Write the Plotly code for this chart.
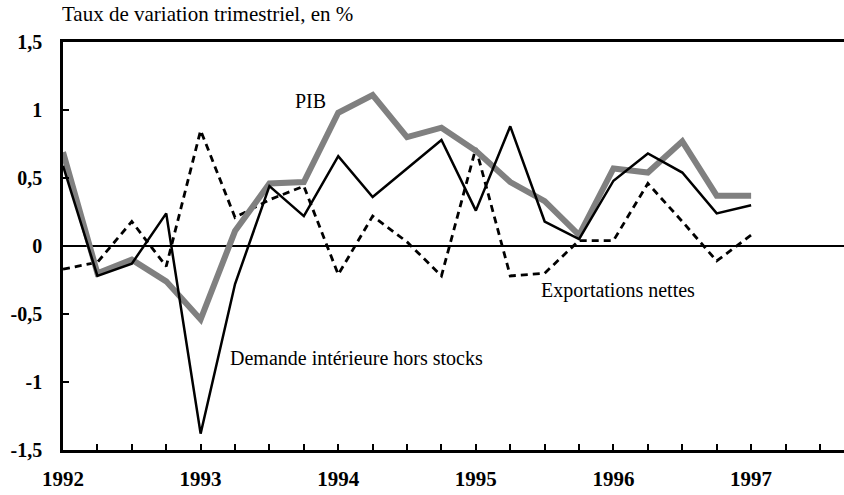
import plotly.graph_objects as go

# Quarterly data, 1992 Q1 -> 1997 Q1
quarters = list(range(21))
pib = [0.69, -0.20, -0.10, -0.26, -0.54, 0.11, 0.46, 0.47, 0.98, 1.11,
       0.80, 0.87, 0.70, 0.47, 0.33, 0.08, 0.57, 0.54, 0.77, 0.37, 0.37]
demande = [0.59, -0.22, -0.13, 0.24, -1.38, -0.28, 0.44, 0.22, 0.66, 0.36,
           0.57, 0.78, 0.26, 0.88, 0.18, 0.05, 0.48, 0.68, 0.54, 0.24, 0.30]
export_nettes = [-0.17, -0.12, 0.18, -0.15, 0.85, 0.21, 0.34, 0.44, -0.21, 0.22,
                 0.03, -0.22, 0.72, -0.22, -0.20, 0.04, 0.04, 0.46, 0.18, -0.11, 0.08]

years = ["1992", "1993", "1994", "1995", "1996", "1997"]
x_tickvals = list(range(23))
x_ticktext = [years[i // 4] if i % 4 == 0 and i // 4 < len(years) else "" for i in x_tickvals]
y_tickvals = [-1.5, -1, -0.5, 0, 0.5, 1, 1.5]
y_ticktext = ["-1,5", "-1", "-0,5", "0", "0,5", "1", "1,5"]

FONT = "Liberation Serif"

fig = go.Figure()
fig.add_trace(go.Scatter(x=quarters, y=export_nettes, mode="lines",
                         line=dict(color="black", width=2.8, dash="7px,5px"),
                         name="Exportations nettes"))
fig.add_trace(go.Scatter(x=quarters, y=pib, mode="lines",
                         line=dict(color="#808080", width=6),
                         name="PIB"))
fig.add_trace(go.Scatter(x=quarters, y=demande, mode="lines",
                         line=dict(color="black", width=2.5),
                         name="Demande intérieure hors stocks"))

fig.update_layout(
    width=844, height=495,
    margin=dict(l=63, r=0, t=42, b=45),
    paper_bgcolor="white", plot_bgcolor="white",
    showlegend=False,
    font=dict(family=FONT, color="black"),
)
fig.update_xaxes(
    range=[0, 22.7], tickvals=x_tickvals, ticktext=x_ticktext,
    showgrid=False, zeroline=False,
    showline=True, linecolor="black", linewidth=2.7, mirror=True,
    ticks="inside", ticklen=6, tickwidth=2, tickcolor="black",
    tickfont=dict(family=FONT, size=21, color="black", weight="bold"),
    ticklabelstandoff=8,
)
fig.update_yaxes(
    range=[-1.5, 1.5], tickvals=y_tickvals, ticktext=y_ticktext,
    showgrid=False, zeroline=True, zerolinecolor="black", zerolinewidth=2,
    showline=True, linecolor="black", linewidth=2.7,
    ticks="inside", ticklen=6, tickwidth=2, tickcolor="black",
    tickfont=dict(family=FONT, size=20, color="black", weight="bold"),
    ticklabelstandoff=14,
)

fig.add_annotation(text="Taux de variation trimestriel, en %", xref="paper", yref="paper",
                   x=-0.004, y=1.068, xanchor="left", yanchor="middle", showarrow=False,
                   font=dict(family=FONT, size=21, color="black"))
fig.add_annotation(text="PIB", x=6.69, y=1.065, xanchor="left", yanchor="middle",
                   showarrow=False, font=dict(family=FONT, size=20, color="black"))
fig.add_annotation(text="Demande intérieure hors stocks", x=4.8, y=-0.82,
                   xanchor="left", yanchor="middle", showarrow=False,
                   font=dict(family=FONT, size=20, color="black"))
fig.add_annotation(text="Exportations nettes", x=13.84, y=-0.324,
                   xanchor="left", yanchor="middle", showarrow=False,
                   font=dict(family=FONT, size=20, color="black"))

fig.write_html("out.html", config={"displayModeBar": False},
               post_script="document.body.style.margin='0';")
